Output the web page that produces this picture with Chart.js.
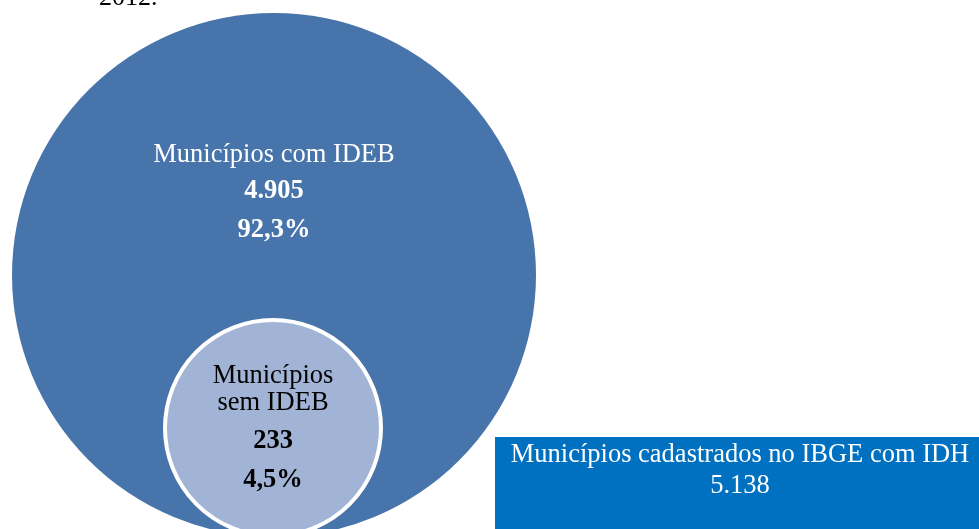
<!DOCTYPE html>
<html>
<head>
<meta charset="utf-8">
<script src="https://cdn.jsdelivr.net/npm/chart.js@4/dist/chart.umd.min.js"></script>
<style>
  html, body { margin: 0; padding: 0; background: #ffffff; overflow: hidden; }
  #wrap { width: 979px; height: 529px; position: relative; }
</style>
</head>
<body>
<div id="wrap"><canvas id="chart" width="979" height="529"></canvas></div>
<script>
// Municipality groups and their figures
const categories = ['Municípios com IDEB', 'Municípios sem IDEB'];
const categoryLines = [['Municípios com IDEB'], ['Municípios', 'sem IDEB']];
const counts = ['4.905', '233'];
const percents = ['92,3%', '4,5%'];
const totalLabel = 'Municípios cadastrados no IBGE com IDH';
const totalCount = '5.138';
const captionTail = '2012.';

// Layout of the diagram (in the hidden 979 x 529 scale space)
const layout = {
  centers: [{ x: 274, y: 275 }, { x: 273, y: 428 }],
  radii: [262, 108],
  fills: ['#4774AA', '#A2B4D5'],
  borders: ['rgba(0,0,0,0)', '#ffffff'],
  borderWidths: [0, 4],
  textColors: ['#ffffff', '#000000'],
  totalBox: { x: 495, y: 437, w: 490, h: 100, color: '#0070C0' }
};

const serif = '"Liberation Serif", "Times New Roman", serif';
const fontSize = 26.5;

const labelsPlugin = {
  id: 'vennLabels',
  beforeDatasetsDraw(chart) {
    const ctx = chart.ctx;
    const sx = chart.scales.x, sy = chart.scales.y;
    const b = layout.totalBox;
    const x0 = sx.getPixelForValue(b.x), y0 = sy.getPixelForValue(b.y);
    const x1 = sx.getPixelForValue(b.x + b.w), y1 = sy.getPixelForValue(b.y + b.h);
    ctx.save();
    ctx.fillStyle = b.color;
    ctx.fillRect(x0, y0, x1 - x0, y1 - y0);
    ctx.fillStyle = '#ffffff';
    ctx.textAlign = 'center';
    ctx.textBaseline = 'alphabetic';
    ctx.font = fontSize + 'px ' + serif;
    const cx = (x0 + x1) / 2;
    ctx.fillText(totalLabel, cx, y0 + 25);
    ctx.fillText(totalCount, cx, y0 + 56);
    // caption fragment at the top edge
    ctx.fillStyle = '#000000';
    ctx.textAlign = 'left';
    ctx.font = '26px ' + serif;
    ctx.fillText(captionTail, 99, 5);
    ctx.restore();
  },
  afterDatasetsDraw(chart) {
    const ctx = chart.ctx;
    const meta = chart.getDatasetMeta(0);
    ctx.save();
    ctx.textAlign = 'center';
    ctx.textBaseline = 'alphabetic';
    meta.data.forEach((el, i) => {
      const { x, y } = el.getProps(['x', 'y'], true);
      ctx.fillStyle = layout.textColors[i];
      if (i === 0) {
        ctx.font = fontSize + 'px ' + serif;
        ctx.fillText(categoryLines[0][0], x, y - 113);
        ctx.font = 'bold ' + fontSize + 'px ' + serif;
        ctx.fillText(counts[0], x, y - 77);
        ctx.fillText(percents[0], x, y - 38);
      } else {
        ctx.font = fontSize + 'px ' + serif;
        ctx.fillText(categoryLines[1][0], x, y - 45);
        ctx.fillText(categoryLines[1][1], x, y - 18);
        ctx.font = 'bold ' + fontSize + 'px ' + serif;
        ctx.fillText(counts[1], x, y + 20);
        ctx.fillText(percents[1], x, y + 59);
      }
    });
    ctx.restore();
  }
};

new Chart(document.getElementById('chart'), {
  type: 'bubble',
  data: {
    labels: categories,
    datasets: [{
      data: categories.map((c, i) => ({ x: layout.centers[i].x, y: layout.centers[i].y, r: layout.radii[i] })),
      backgroundColor: layout.fills,
      borderColor: layout.borders,
      borderWidth: layout.borderWidths,
      hoverRadius: 0,
      clip: false
    }]
  },
  options: {
    responsive: false,
    animation: false,
    events: [],
    layout: { padding: 0, autoPadding: false },
    plugins: { legend: { display: false }, tooltip: { enabled: false } },
    scales: {
      x: { type: 'linear', display: false, min: 0, max: 979 },
      y: { type: 'linear', display: false, min: 0, max: 529, reverse: true }
    }
  },
  plugins: [labelsPlugin]
});
</script>
</body>
</html>
